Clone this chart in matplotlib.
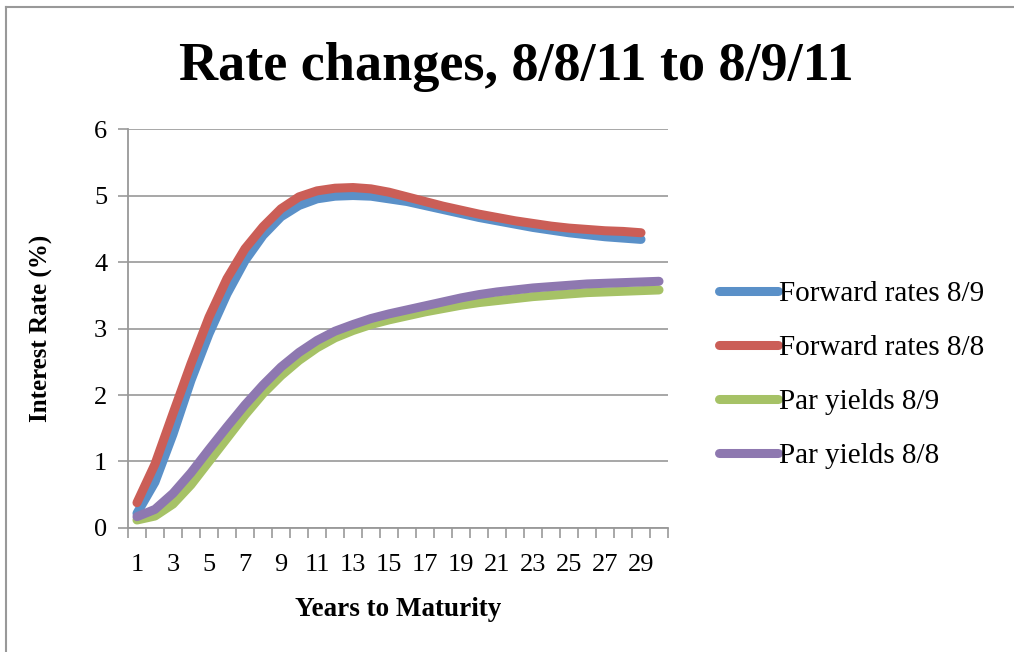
import numpy as np
import matplotlib
matplotlib.use("Agg")
import matplotlib.pyplot as plt
from matplotlib.lines import Line2D
from matplotlib.ticker import FixedLocator

# years to maturity
years_fwd = list(range(1, 30))
years_par = list(range(1, 31))

fwd_89 = [0.22, 0.69, 1.41, 2.22, 2.92, 3.52, 4.02, 4.40, 4.68, 4.85,
          4.95, 4.99, 5.00, 4.99, 4.95, 4.91, 4.85, 4.79, 4.73, 4.67,
          4.62, 4.57, 4.52, 4.48, 4.44, 4.41, 4.38, 4.36, 4.34]
fwd_88 = [0.38, 0.96, 1.72, 2.47, 3.17, 3.75, 4.20, 4.53, 4.80, 4.98,
          5.07, 5.11, 5.12, 5.10, 5.05, 4.98, 4.91, 4.84, 4.78, 4.72,
          4.67, 4.62, 4.58, 4.54, 4.51, 4.49, 4.47, 4.46, 4.44]
par_89 = [0.12, 0.18, 0.36, 0.65, 1.00, 1.35, 1.70, 2.02, 2.29, 2.52,
          2.71, 2.86, 2.97, 3.06, 3.13, 3.19, 3.25, 3.30, 3.35, 3.39,
          3.42, 3.45, 3.48, 3.50, 3.52, 3.54, 3.55, 3.56, 3.57, 3.58]
par_88 = [0.17, 0.28, 0.52, 0.83, 1.18, 1.52, 1.85, 2.15, 2.42, 2.64,
          2.82, 2.96, 3.06, 3.15, 3.22, 3.28, 3.34, 3.40, 3.46, 3.51,
          3.55, 3.58, 3.61, 3.63, 3.65, 3.67, 3.68, 3.69, 3.70, 3.71]

plt.rcParams["font.family"] = ["Liberation Serif", "DejaVu Serif"]

fig = plt.figure(figsize=(10.14, 6.52), dpi=100)
ax = fig.add_axes([0.1262, 0.1902, 0.5326, 0.6119])

series = [
    (years_fwd, fwd_89, "Forward rates 8/9", "#5A90C8"),
    (years_fwd, fwd_88, "Forward rates 8/8", "#CB5E57"),
    (years_par, par_89, "Par yields 8/9", "#A6C266"),
    (years_par, par_88, "Par yields 8/8", "#8E78B0"),
]
for x, y, lab, col in series:
    ax.plot(x, y, color=col, lw=6.5, label=lab,
            solid_capstyle="round", solid_joinstyle="round")

ax.set_xlim(0.5, 30.5)
ax.set_ylim(0, 6)
ax.set_yticks(range(0, 7))
ax.set_xticks(range(1, 30, 2))
ax.xaxis.set_minor_locator(FixedLocator(np.arange(0.5, 31, 1)))
ax.tick_params(axis="x", which="major", length=0, pad=19, labelsize=19)
ax.tick_params(axis="x", which="minor", length=7, width=1.2, color="#999999", direction="out")
ax.tick_params(axis="y", length=7, width=1.2, color="#999999", labelsize=19, pad=8)
ax.grid(axis="y", color="#A0A0A0", lw=1.3)
ax.set_axisbelow(True)
for s in ["top", "right"]:
    ax.spines[s].set_visible(False)
for s in ["left", "bottom"]:
    ax.spines[s].set_color("#999999")
    ax.spines[s].set_linewidth(1.3)

ax.set_xlabel("Years to Maturity", fontsize=19.5, fontweight="bold")
ax.xaxis.set_label_coords(0.5, -0.173)
ax.set_ylabel("Interest Rate (%)", fontsize=18, fontweight="bold")
ax.yaxis.set_label_coords(-0.138, 0.5)

fig.text(0.509, 0.897, "Rate changes, 8/8/11 to 8/9/11", ha="center", va="center",
         fontsize=39, fontweight="bold")

leg = ax.legend(loc="center left", bbox_to_anchor=(0.698, 0.425), bbox_transform=fig.transFigure,
                frameon=False, fontsize=21, handlelength=2.0, handletextpad=0.05,
                labelspacing=0.95, borderaxespad=0)

# outer chart border (left and top edges visible)
fig.add_artist(Line2D([0.006, 0.006], [0, 0.99], transform=fig.transFigure, color="#999999", lw=1.5))
fig.add_artist(Line2D([0.006, 1.0], [0.99, 0.99], transform=fig.transFigure, color="#999999", lw=1.5))

fig.savefig("out.png", dpi=100)
